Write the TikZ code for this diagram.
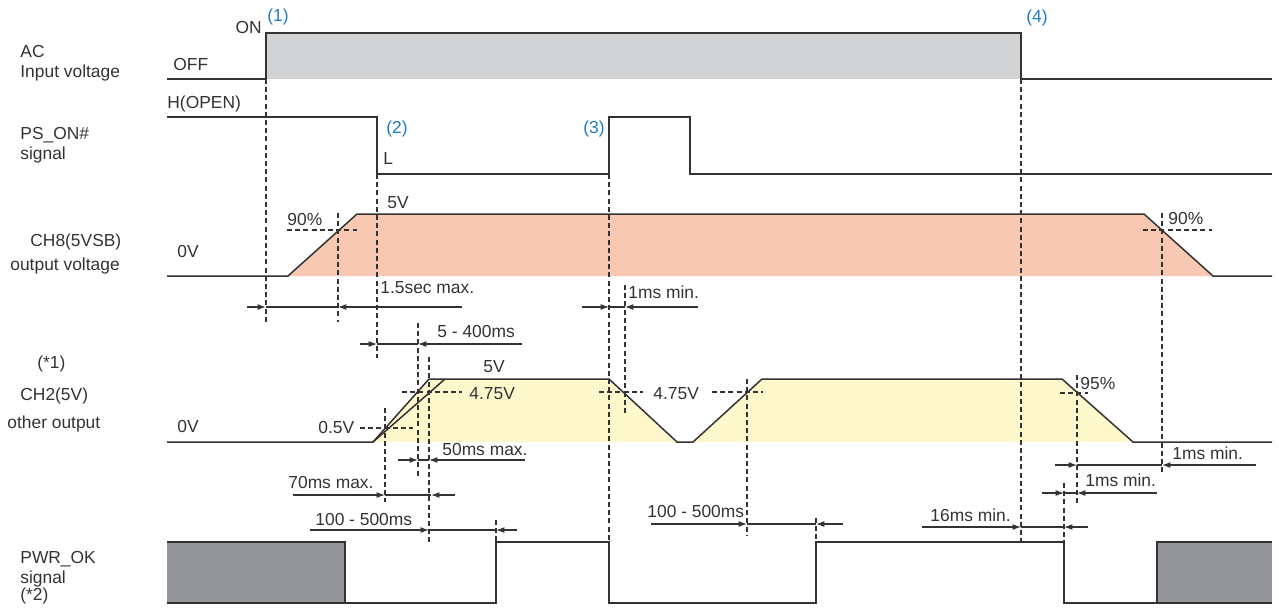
\documentclass[tikz,border=0pt]{standalone}
\usepackage{fontspec}
\setmainfont{Liberation Sans}
\usetikzlibrary{arrows.meta}
\definecolor{acgray}{HTML}{D1D3D4}
\definecolor{salmon}{HTML}{F9C8B2}
\definecolor{lyellow}{HTML}{FEF8CC}
\definecolor{okgray}{HTML}{939598}
\definecolor{lblue}{HTML}{1F7BC4}
\definecolor{ink}{HTML}{333333}
\begin{document}
\begin{tikzpicture}[x=0.5pt,y=-0.5pt,
  sig/.style={draw=ink,line width=0.75pt,line join=miter},
  guide/.style={draw=ink,line width=0.6pt,dash pattern=on 2.5pt off 1.6pt},
  dimln/.style={draw=ink,line width=0.6pt},
  tipln/.style={dimln,-{Latex[length=4.2pt,width=3pt]}},
  lbl/.style={inner sep=0pt,anchor=base west,font=\fontsize{8.7}{10}\selectfont,text=ink},
  numlbl/.style={lbl,text=lblue}]
\useasboundingbox (0,0) rectangle (1279,612);

% ---------- fills ----------
\fill[acgray] (266,33) rectangle (1021,79);
\fill[salmon] (288,276) -- (357,214) -- (1144,214) -- (1213,276) -- cycle;
\fill[lyellow] (373,442) -- (429,379) -- (609,379) -- (677,442) -- (693,442) -- (762,379) -- (1062,379) -- (1133,442) -- cycle;
\fill[okgray] (167,542) rectangle (345,603);
\fill[okgray] (1157,542) rectangle (1272,603);

% ---------- guide (dashed) lines ----------
\foreach \x/\ya/\yb in {266/79/322, 338/213/322, 377/174/358, 609/174/542, 625/285/413,
  1021/79/542, 1162/213/475, 385/408/502, 418/323/477, 429/357/543, 747/379/535,
  1077/375/505, 1064/483/542, 496/520/542, 816/518/542}
  \draw[guide] (\x,\ya) -- (\x,\yb);
\foreach \xa/\xb/\y in {287/357/230, 1143/1212/230, 360/413/428, 402/462/392,
  599/643/392, 712/763/392, 1060/1088/393}
  \draw[guide] (\xa,\y) -- (\xb,\y);

% ---------- signals ----------
\draw[sig] (167,79) -- (266,79) -- (266,33) -- (1021,33) -- (1021,79) -- (1272,79);
\draw[sig] (167,117) -- (377,117) -- (377,174) -- (609,174) -- (609,117) -- (690,117) -- (690,174) -- (1272,174);
\draw[sig] (167,276) -- (288,276) -- (357,214) -- (1144,214) -- (1213,276) -- (1272,276);
\draw[sig] (167,442) -- (373,442) -- (429,379) -- (609,379) -- (677,442) -- (693,442) -- (762,379) -- (1062,379) -- (1133,442) -- (1272,442);
\draw[sig] (373,442) -- (445,379);
\draw[sig] (167,542) -- (345,542) -- (345,603);
\draw[sig] (167,603) -- (496,603) -- (496,542) -- (609,542) -- (609,603) -- (816,603) -- (816,542) -- (1064,542) -- (1064,603) -- (1272,603);
\draw[sig] (1157,603) -- (1157,542) -- (1272,542);

% ---------- dimension arrows ----------
\foreach \y/\xl/\xr/\ta/\tb in {307/247/462/266/338, 307/582/698/609/625,
  344/360/522/377/418, 460/398/525/418/429, 495/293/455/385/431,
  530/310/517/429/496, 524/651/843/747/816, 527/922/1088/1021/1064,
  465/1055/1256/1077/1162, 493/1042/1157/1064/1077}{
  \draw[tipln] (\xl,\y) -- (\ta,\y);
  \draw[dimln] (\ta,\y) -- (\tb,\y);
  \draw[tipln] (\xr,\y) -- (\tb,\y);
}

% ---------- left labels ----------
\node[lbl] (ac1) at (20,57) {AC};
\node[lbl] (ac2) at (20,77) {Input voltage};
\node[lbl] (ps1) at (20,139) {PS\_ON\#};
\node[lbl] (ps2) at (20,159) {signal};
\node[lbl] (ch81) at (30,246) {CH8(5VSB)};
\node[lbl] (ch82) at (10,270) {output voltage};
\node[lbl] (ch21) at (37,368) {(*1)};
\node[lbl] (ch22) at (20,400) {CH2(5V)};
\node[lbl] (ch23) at (7,428) {other output};
\node[lbl] (ok1) at (20,563) {PWR\_OK};
\node[lbl] (ok2) at (20,583) {signal};
\node[lbl] (ok3) at (20,600) {(*2)};

% ---------- signal labels ----------
\node[lbl] (off) at (173,70) {OFF};
\node[lbl,anchor=base east] (on) at (262,33) {ON};
\node[lbl] (hopen) at (167,108) {H(OPEN)};
\node[lbl] (low) at (383,164) {L};
\node[numlbl] (n1) at (267,21) {(1)};
\node[numlbl] (n2) at (386,133) {(2)};
\node[numlbl] (n3) at (583,133) {(3)};
\node[numlbl] (n4) at (1026,22) {(4)};
\node[lbl] (v5a) at (387,208) {5V};
\node[lbl] (p90a) at (287,225) {90\%};
\node[lbl] (p90b) at (1168,224) {90\%};
\node[lbl] (v0a) at (177,257) {0V};
\node[lbl] (t15) at (380,293) {1.5sec max.};
\node[lbl] (t1ms) at (628,298) {1ms min.};
\node[lbl] (t5400) at (437,337) {5 - 400ms};
\node[lbl] (v5b) at (483,372) {5V};
\node[lbl] (v475a) at (469,399) {4.75V};
\node[lbl] (v475b) at (653,399) {4.75V};
\node[lbl] (p95) at (1080,389) {95\%};
\node[lbl] (v0b) at (177,432) {0V};
\node[lbl] (v05) at (318,433) {0.5V};
\node[lbl] (t50) at (442,455) {50ms max.};
\node[lbl] (t1msb) at (1172,459) {1ms min.};
\node[lbl] (t1msc) at (1085,486) {1ms min.};
\node[lbl] (t70) at (288,488) {70ms max.};
\node[lbl] (t100a) at (315,525) {100 - 500ms};
\node[lbl] (t100b) at (647,517) {100 - 500ms};
\node[lbl] (t16) at (930,521) {16ms min.};
\end{tikzpicture}
\end{document}
